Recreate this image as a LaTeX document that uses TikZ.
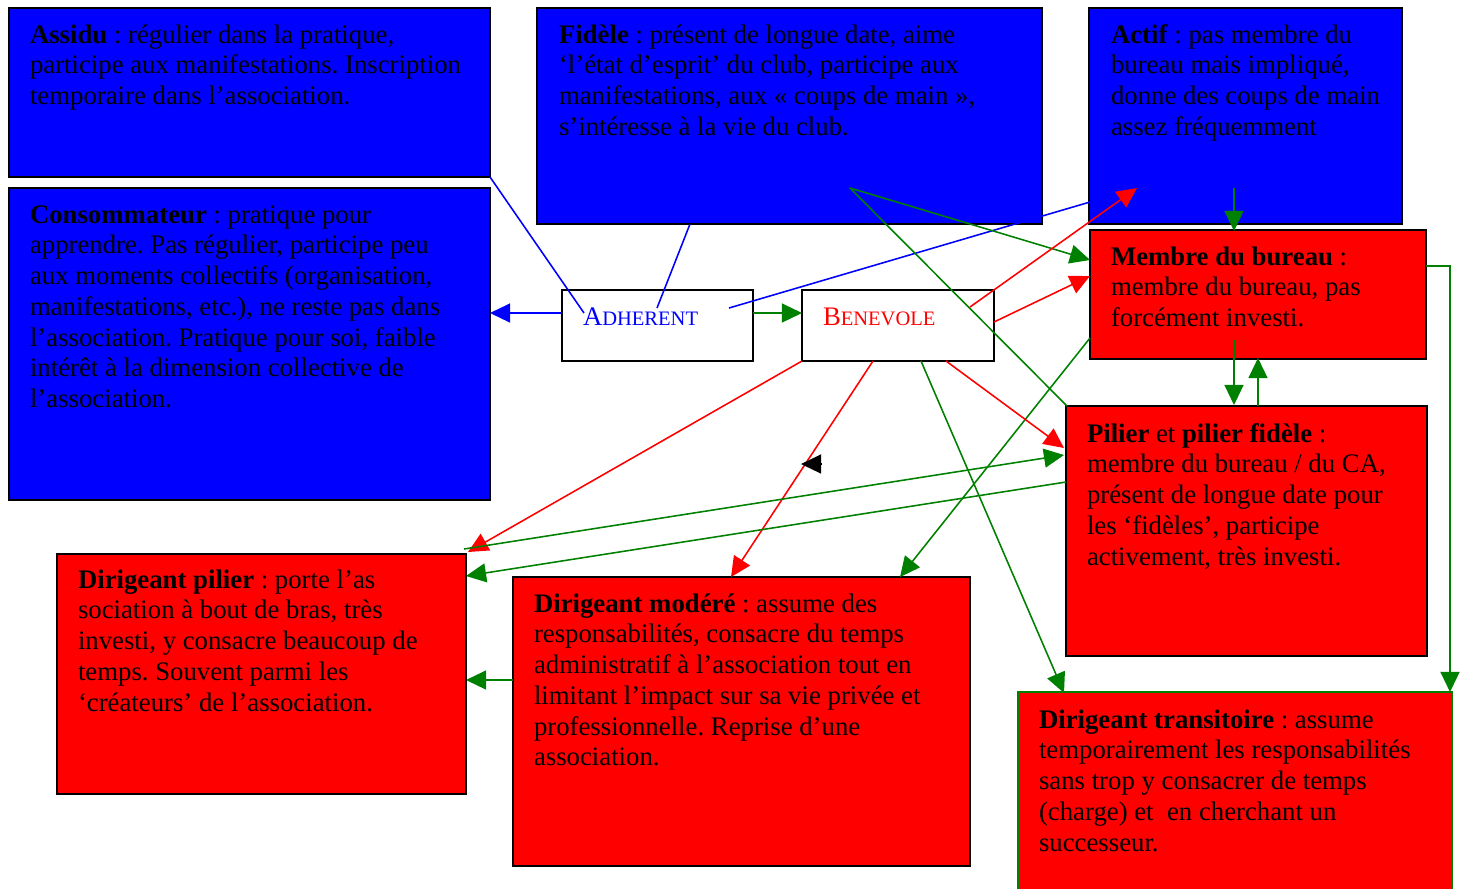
\documentclass[tikz,border=0pt]{standalone}
\usepackage{fontspec}
\setmainfont{Liberation Serif}
\usetikzlibrary{arrows.meta}
\definecolor{cblue}{RGB}{0,0,255}
\definecolor{cred}{RGB}{255,0,0}
\definecolor{cgreen}{RGB}{0,128,0}
\newcommand\mystrut{\rule{0pt}{10pt}}
\newcommand\pxbox[6]{\node[#6, minimum width={(#4-#2)*0.4484pt}, minimum height={(#5-#3)*0.4484pt}] (#1) at ({(#2+#4)/2},{(#3+#5)/2}) {};}
\newcommand\sm[1]{{\fontsize{9.2}{11}\selectfont #1}}
\frenchspacing
\begin{document}
\begin{tikzpicture}[x=0.4484pt,y=-0.4484pt,
  box/.style={rectangle, draw=black, line width=0.8pt, inner sep=0pt, outer sep=0pt},
  bluebox/.style={box, fill=cblue},
  redbox/.style={box, fill=cred},
  greenbox/.style={box, fill=cred, draw=cgreen},
  whitebox/.style={box, fill=white},
  txt/.style={anchor=north west, inner sep=0pt, outer sep=0pt, align=left, font=\fontsize{12}{13.8}\selectfont\frenchspacing},
  lbl/.style={anchor=base west, inner sep=0pt, outer sep=0pt, font=\fontsize{12}{13.8}\selectfont},
  conn/.style={line width=0.7pt},
  arr/.style={conn, -{Triangle[length=9pt,width=8.5pt]}}]
\useasboundingbox (0,0) rectangle (1466,888);
\clip (0,0) rectangle (1466,888);

% ---------- boxes ----------
\pxbox{assidu}{9}{8}{490}{177}{bluebox}
\pxbox{fidele}{537}{8}{1042}{224}{bluebox}
\pxbox{actif}{1089}{8}{1402}{224}{bluebox}
\pxbox{conso}{9}{188}{490}{500}{bluebox}
\pxbox{adh}{562}{290}{753}{361}{whitebox}
\pxbox{ben}{802}{290}{994}{361}{whitebox}
\pxbox{membre}{1090}{230}{1426}{359}{redbox}
\pxbox{pilier}{1066}{406}{1427}{656}{redbox}
\pxbox{dpilier}{57}{554}{466}{794}{redbox}
\pxbox{dmodere}{513}{577}{970}{866}{redbox}
\pxbox{dtrans}{1018}{692}{1452}{900}{greenbox}

% ---------- texts ----------
\node[txt] (tassidu) at (30,20.7) {\mystrut\textbf{Assidu} : régulier dans la pratique,\\participe aux manifestations. Inscription\\temporaire dans l’association.};
\node[txt] (tfidele) at (559,20.7) {\mystrut\textbf{Fidèle} : présent de longue date, aime\\‘l’état d’esprit’ du club, participe aux\\manifestations, aux « coups de main »,\\s’intéresse à la vie du club.};
\node[txt] (tactif) at (1111,20.7) {\mystrut\textbf{Actif} : pas membre du\\bureau mais impliqué,\\donne des coups de main\\assez fréquemment};
\node[txt] (tconso) at (30,200.7) {\mystrut\textbf{Consommateur} : pratique pour\\apprendre. Pas régulier, participe peu\\aux moments collectifs (organisation,\\manifestations, etc.), ne reste pas dans\\l’association. Pratique pour soi, faible\\intérêt à la dimension collective de\\l’association.};
\node[txt] (tmembre) at (1111,242.7) {\mystrut\textbf{Membre du bureau} :\\membre du bureau, pas\\forcément investi.};
\node[txt] (tpilier) at (1087,419.7) {\mystrut\textbf{Pilier} et \textbf{pilier fidèle} :\\membre du bureau / du CA,\\présent de longue date pour\\les ‘fidèles’, participe\\activement, très investi.};
\node[txt] (tdpilier) at (78,565.7) {\mystrut\textbf{Dirigeant pilier} : porte l’as\\sociation à bout de bras, très\\investi, y consacre beaucoup de\\temps. Souvent parmi les\\‘créateurs’ de l’association.};
\node[txt] (tdmodere) at (534,589.7) {\mystrut\textbf{Dirigeant modéré} : assume des\\responsabilités, consacre du temps\\administratif à l’association tout en\\limitant l’impact sur sa vie privée et\\professionnelle. Reprise d’une\\association.};
\node[txt] (tdtrans) at (1039,705.7) {\mystrut\textbf{Dirigeant transitoire} : assume\\temporairement les responsabilités\\sans trop y consacrer de temps\\(charge) et~ en cherchant un\\successeur.};
\node[lbl, text=cblue] (tadh) at (583,325) {A\sm{DHERENT}};
\node[lbl, text=cred] (tben) at (823,325) {B\sm{ENEVOLE}};

% ---------- connector end points ----------
\coordinate (pA1) at (584,313);
\coordinate (pF1) at (690,224);
\coordinate (pA2) at (657,308);
\coordinate (pA3) at (729,308);
\coordinate (pAct1) at (1090,202);
\coordinate (pAw) at (562,313);
\coordinate (pCe) at (490,313);
\coordinate (pAe) at (753,313);
\coordinate (pBw) at (802,313);
\coordinate (pF) at (850,188);
\coordinate (pM1) at (1090,260);
\coordinate (pP1) at (1067,406);
\coordinate (pB1) at (970,307);
\coordinate (pAct2) at (1137,188);
\coordinate (pB2) at (994,322);
\coordinate (pM2) at (1090,276);
\coordinate (pAct3) at (1234,188);
\coordinate (pM3) at (1234,231);
\coordinate (pM4) at (1234,340);
\coordinate (pP2) at (1234,405);
\coordinate (pP3) at (1258,406);
\coordinate (pM5) at (1258,358);
\coordinate (pM6) at (1426,266);
\coordinate (pK) at (1450,266);
\coordinate (pT1) at (1450,692);
\coordinate (pM7) at (1090,338);
\coordinate (pD1) at (900,577);
\coordinate (pB3) at (802,361);
\coordinate (pDP1) at (468,552);
\coordinate (pB4) at (873,361);
\coordinate (pD2) at (731,577);
\coordinate (pB5) at (921,361);
\coordinate (pT2) at (1064,693);
\coordinate (pB6) at (946,361);
\coordinate (pP4) at (1064,448);
\coordinate (pDP2) at (464,549);
\coordinate (pP5) at (1064,455);
\coordinate (pP6) at (1066,482);
\coordinate (pDP3) at (466,576);
\coordinate (pD3) at (513,680);
\coordinate (pDP4) at (466,680);
\coordinate (stubA) at (822,464);
\coordinate (stubB) at (801,464);

% ---------- connectors ----------
\draw[conn, cblue] (assidu.south east) -- (pA1);
\draw[conn, cblue] (pF1) -- (pA2);
\draw[conn, cblue] (pA3) -- (pAct1);
\draw[arr, cblue] (pAw) -- (pCe);
\draw[arr, cgreen] (pAe) -- (pBw);
\draw[arr, cgreen] (pF) -- (pM1);
\draw[conn, cgreen] (pF) -- (pP1);
\draw[arr, cred] (pB1) -- (pAct2);
\draw[arr, cred] (pB2) -- (pM2);
\draw[arr, cgreen] (pAct3) -- (pM3);
\draw[arr, cgreen] (pM4) -- (pP2);
\draw[arr, cgreen] (pP3) -- (pM5);
\draw[arr, cgreen] (pM6) -- (pK) -- (pT1);
\draw[arr, cgreen] (pM7) -- (pD1);
\draw[arr, cred] (pB3) -- (pDP1);
\draw[arr, cred] (pB4) -- (pD2);
\draw[arr, cgreen] (pB5) -- (pT2);
\draw[arr, cred] (pB6) -- (pP4);
\draw[arr, cgreen] (pDP2) -- (pP5);
\draw[arr, cgreen] (pP6) -- (pDP3);
\draw[arr, cgreen] (pD3) -- (pDP4);
\draw[arr, black] (stubA) -- (stubB);
\end{tikzpicture}
\end{document}
